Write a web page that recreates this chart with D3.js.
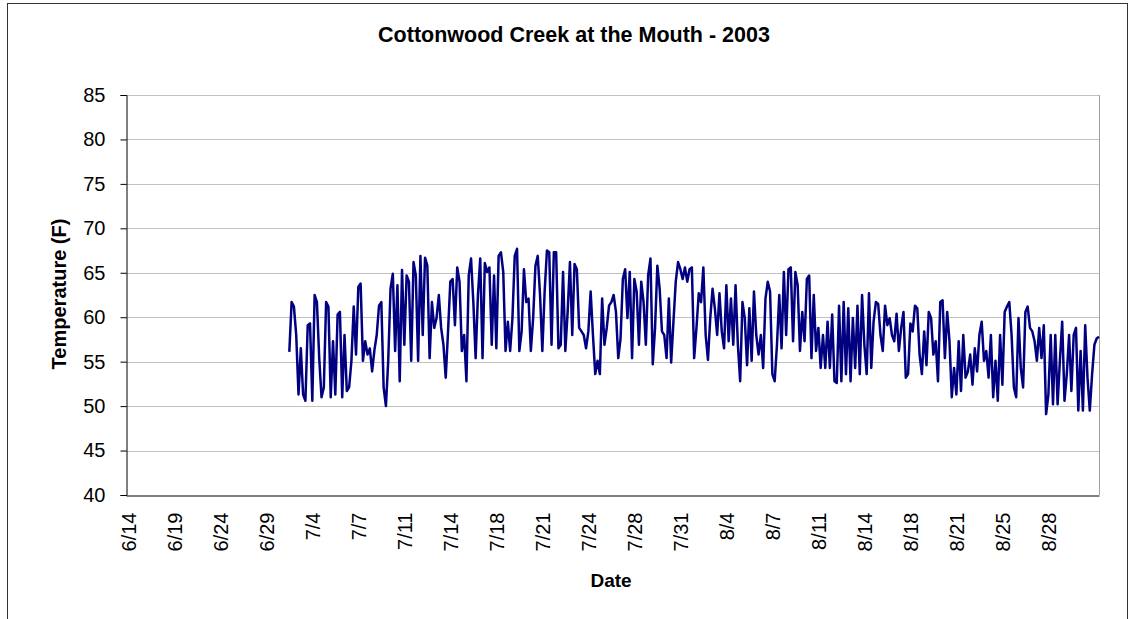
<!DOCTYPE html>
<html><head><meta charset="utf-8">
<script src="https://cdn.jsdelivr.net/npm/d3@7"></script>
<style>
html,body{margin:0;padding:0;background:#fff;}
svg{display:block;font-family:"Liberation Sans",Arial,sans-serif;}
</style></head>
<body><svg id="chart" width="1132" height="619"></svg>
<script>
// ---- data ----
const title = "Cottonwood Creek at the Mouth - 2003";
const xTitle = "Date";
const yTitle = "Temperature (F)";
const dateLabels = ["6/14","6/19","6/24","6/29","7/4","7/7","7/11","7/14","7/18","7/21","7/24","7/28","7/31","8/4","8/7","8/11","8/14","8/18","8/21","8/25","8/28"];
const pointsPerLabel = 20;
const totalPoints = 423;      // readings index 0..422
const firstReading = 70;      // first logged reading index
const yTicks = [40,45,50,55,60,65,70,75,80,85];

const earlyJuly = [
56.1,61.7,61.2,58.0,51.3,56.5,51.3,50.6,59.1,59.3,
50.6,62.5,61.7,55.4,51.0,52.1,61.7,61.2,51.0,57.3,
51.3,60.3,60.6,51.0,58.0,51.7,52.1,55.1,61.2,55.8,
63.4,63.8,55.1,57.3,55.8,56.5,53.9,56.3,58.0,61.3,
61.7,52.1,50.0,55.1,63.2,64.9,56.2,63.6,52.8,65.3,
56.9,64.7,64.0,55.1,66.2,64.7,55.1,66.9,58.0,66.7,
65.8,55.4,61.7,58.8,59.9,62.5,58.8,56.9,53.2,58.4,
64.0,64.3,59.1,65.6,64.0,56.2,58.0,52.8,64.7,66.6,
61.7,55.4,62.5,66.6,55.4,66.1,65.1];
const lateJuly = [
65.6,56.9,64.7,56.5,66.9,67.3,65.1,56.2,59.5,56.2,
59.9,66.9,67.7,56.2,58.4,65.4,61.7,62.1,56.2,59.9,
65.8,66.9,62.5,56.2,62.9,67.5,67.3,56.9,67.3,67.3,
56.5,56.9,65.1,56.2,60.6,66.2,58.0,66.0,65.4,58.8,
58.4,58.0,56.5,58.4,62.9,58.0,53.6,55.1,53.6,62.1,
56.9,58.8,61.3,61.7,62.5,60.6,55.4,57.6,64.3,65.4,
59.9,65.1,55.4,64.3,62.9,56.9,64.0,61.7,56.9,64.7,
66.6,54.7,58.8,65.8,63.2,58.4,58.0,55.4,62.1,54.9,
59.5,64.0,66.2,65.4,64.3,65.6,64.0,65.4];
const earlyAugust = [
65.6,55.4,58.8,62.7,61.7,65.6,58.0,55.2,59.9,63.2,
61.0,58.0,62.7,58.4,56.5,63.6,57.3,62.1,56.9,63.6,
56.9,52.8,61.7,59.9,54.6,61.0,55.1,62.9,58.0,55.8,
58.0,54.3,62.1,64.0,62.9,53.6,52.8,56.9,62.5,56.5,
65.1,58.0,65.4,65.6,57.3,65.1,63.6,56.2,60.6,57.3,
64.3,64.7,55.4,62.5,56.2,58.8,54.3,58.0,54.3,59.5,
54.3,60.3,52.8,52.6,61.3,52.8,61.7,53.6,61.0,52.8,
59.9,54.3,61.3,53.6,62.5,56.9,53.6,62.7,54.3,59.5,
61.7,61.5,58.0,56.2,61.3,59.1,59.9,58.0];
const lateAugust = [
57.3,60.4,56.2,58.8,60.6,53.2,53.6,59.3,58.4,61.3,
61.0,55.8,53.6,58.4,54.6,60.6,59.9,55.8,57.3,52.8,
61.7,61.9,55.4,60.6,57.3,51.0,54.3,51.3,57.3,51.7,
58.0,53.2,53.9,55.8,52.4,56.5,53.9,58.0,59.5,55.1,
56.2,53.2,58.0,51.0,55.1,50.6,58.0,52.4,60.6,61.2,
61.7,58.0,52.1,51.0,59.9,54.3,52.1,60.6,61.2,58.8,
58.4,57.3,55.1,58.8,55.4,59.1,49.1,51.3,58.0,50.2,
58.0,50.2,55.1,59.5,50.6,53.6,58.0,51.7,58.0,58.8,
49.5,56.2,49.5,59.1,53.2,49.5,53.6,56.9,57.6,57.8];

const temps = earlyJuly.concat(lateJuly, earlyAugust, lateAugust);
const series = temps.map((v,k)=>({i:firstReading+k, v:v}));

// ---- layout ----
const svg = d3.select("#chart");
const L = 126, R = 1099, T = 95, B = 495;
const x = d3.scaleLinear().domain([-1, totalPoints-1]).range([L, R]);
const y = d3.scaleLinear().domain([40, 85]).range([B, T]);

// outer border
svg.append("rect").attr("x",7.5).attr("y",3.5).attr("width",1120).attr("height",630)
  .attr("fill","none").attr("stroke","#333").attr("stroke-width",1);

// title
svg.append("text").attr("x",574).attr("y",42).attr("text-anchor","middle")
  .attr("font-weight","bold").attr("font-size",21.5).text(title);

// gridlines
svg.append("g").selectAll("line").data(yTicks.filter(t=>t>40)).join("line")
  .attr("x1",L).attr("x2",R).attr("y1",d=>Math.round(y(d))+0.5).attr("y2",d=>Math.round(y(d))+0.5)
  .attr("stroke","#c0c0c0").attr("stroke-width",1);
// plot right border
svg.append("line").attr("x1",R+0.5).attr("x2",R+0.5).attr("y1",T).attr("y2",B)
  .attr("stroke","#a0a0a0").attr("stroke-width",1);

// y axis
const yAxis = d3.axisLeft(y).tickValues(yTicks).tickSize(6).tickPadding(15);
const gy = svg.append("g").attr("transform",`translate(${L+0.5},0)`).call(yAxis);
gy.select(".domain").attr("stroke","#000");
gy.selectAll(".tick line").attr("stroke","#000");
gy.selectAll(".tick text").attr("font-size",20).attr("fill","#000").attr("font-family","'Liberation Sans',Arial,sans-serif");

// x axis
const labelIdx = dateLabels.map((d,k)=>k*pointsPerLabel);
const xAxis = d3.axisBottom(x).tickValues(labelIdx).tickSize(0).tickFormat((d,k)=>dateLabels[k]);
const gx = svg.append("g").attr("transform",`translate(0,${B+0.5})`).call(xAxis);
gx.select(".domain").attr("stroke","#000");
gx.selectAll(".tick text").attr("font-size",20).attr("fill","#000")
  .attr("font-family","'Liberation Sans',Arial,sans-serif")
  .attr("text-anchor","end").attr("transform","translate(0,17) rotate(-90)")
  .attr("x",0).attr("y",0).attr("dy","0.35em");

// line
const line = d3.line().x(d=>x(d.i)).y(d=>y(d.v));
svg.append("path").datum(series).attr("d",line).attr("fill","none")
  .attr("stroke","#000080").attr("stroke-width",2.5).attr("stroke-linejoin","round");

// axis titles
svg.append("text").attr("x",611).attr("y",587).attr("text-anchor","middle")
  .attr("font-weight","bold").attr("font-size",19).text(xTitle);
svg.append("text").attr("transform","translate(66,294) rotate(-90)").attr("text-anchor","middle")
  .attr("font-weight","bold").attr("font-size",20).text(yTitle);
</script></body></html>
